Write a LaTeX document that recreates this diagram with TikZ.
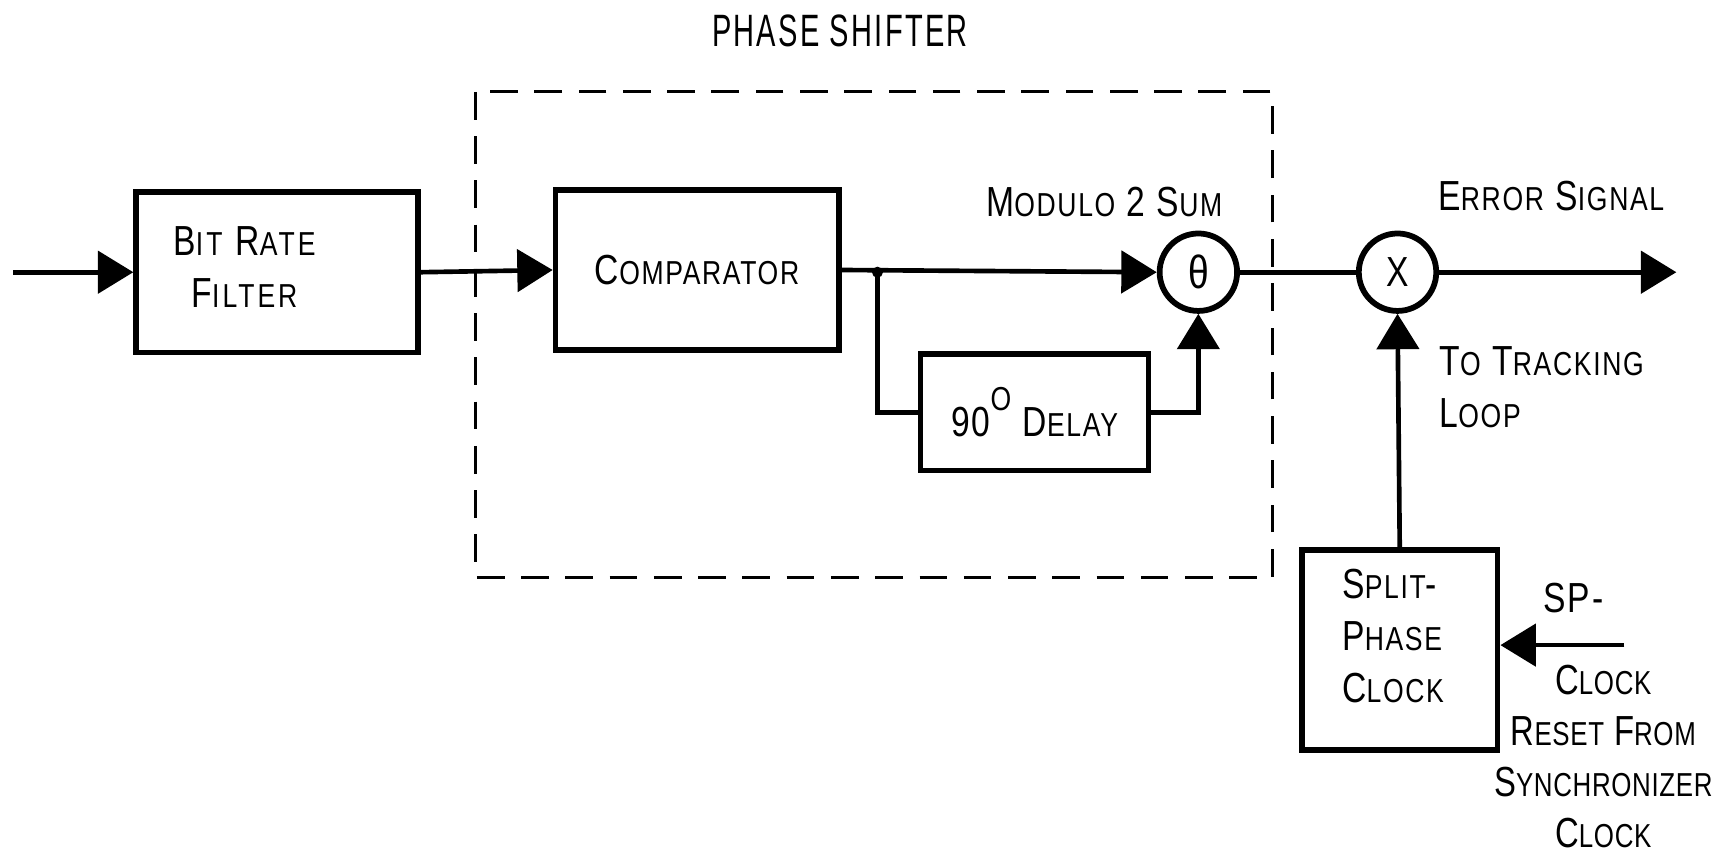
\documentclass[tikz,border=0pt]{standalone}
\usepackage{fontspec}
\setmainfont{Liberation Sans}[FakeStretch=0.8, LetterSpace=5]
\newfontfamily\psfont{Liberation Sans}[FakeStretch=0.64, LetterSpace=5]
\newfontfamily\widefont{Liberation Sans}[FakeStretch=0.8, LetterSpace=9]
\newfontfamily\tightfont{Liberation Sans}[FakeStretch=0.78, LetterSpace=2]
\usetikzlibrary{arrows.meta}
\newcommand\sm[1]{{\fontsize{15}{17}\selectfont #1}}
\begin{document}
\begin{tikzpicture}[x=0.5pt,y=-0.5pt,
  line width=2.1pt,
  arr/.style={-{Triangle[length=16pt,width=19pt]}},
  blk/.style={draw, line width=2.5pt, inner sep=0pt, font=\fontsize{19}{23.5}\selectfont},
  circ/.style={draw, circle, line width=2.6pt, minimum size=35pt, inner sep=0pt, font=\fontsize{19}{23}\selectfont},
  txt/.style={inner sep=0pt, font=\fontsize{19}{23.5}\selectfont},
  frame/.style={line width=1.35pt, dash pattern=on 12.5pt off 7.5pt}]
\useasboundingbox (0,0) rectangle (1568,772);
% dashed frame
\draw[frame] (430,83) rectangle (1150,522);
\node[txt, font=\psfont\fontsize{20.5}{24}\selectfont] (ps) at (759,28) {PHASE SHIFTER};
% blocks
\node[blk, minimum width=127.5pt, minimum height=72.5pt] (brf) at (250.5,246) {};
\node[txt, align=center, font=\widefont\fontsize{19}{23.5}\selectfont] (brft) at (221,241.5) {B\sm{IT} R\sm{ATE}\\F\sm{ILTER}};
\node[blk, minimum width=128pt, minimum height=72.5pt] (cmp) at (630,244) {C\sm{OMPARATOR}};
\node[circ] (sum) at (1083,246) {\fontsize{21}{22}\selectfont θ};
\node[circ] (mul) at (1263,246) {X};
\node[blk, minimum width=103pt, minimum height=52.5pt] (dly) at (935,372.5) {90\raisebox{1.2ex}{\sm{O}} D\sm{ELAY}};
\node[blk, minimum width=88.5pt, minimum height=90.5pt] (spc) at (1265,587.5) {};
\node[txt, align=left, anchor=west] (spct) at (1211,575) {S\sm{PLIT}-\\P\sm{HASE}\\C\sm{LOCK}};
% labels
\node[txt] (mod) at (998,183) {M\sm{ODULO} 2 S\sm{UM}};
\node[txt] (err) at (1402,177) {E\sm{RROR} S\sm{IGNAL}};
\node[txt, align=left, anchor=west] (trk) at (1299,350) {T\sm{O} T\sm{RACKING}\\L\sm{OOP}};
\node[txt] (sp) at (1422,540) {SP-};
\node[txt, align=center, font=\tightfont\fontsize{19}{23}\selectfont] (rst) at (1449,683.5) {C\sm{LOCK}\\R\sm{ESET} F\sm{ROM}\\S\sm{YNCHRONIZER}\\C\sm{LOCK}};
% connectors
\coordinate (in) at (12,246);
\coordinate (j) at (793,246);
\coordinate (out) at (1515,246);
\coordinate (clkin) at (1468,583);
\draw[arr] (in) -- (brf.west);
\draw[arr] (brf.east) -- (cmp.west);
\draw[arr] (cmp.east) -- (sum.west);
\fill (j) circle (5);
\draw (j) |- (dly.west);
\draw[arr] (dly.east) -| (sum.south);
\draw (sum.east) -- (mul.west);
\draw[arr] (mul.east) -- (out);
\draw[arr] (spc.north) -- (mul.south);
\draw[arr] (clkin) -- (clkin -| spc.east);
\end{tikzpicture}
\end{document}
